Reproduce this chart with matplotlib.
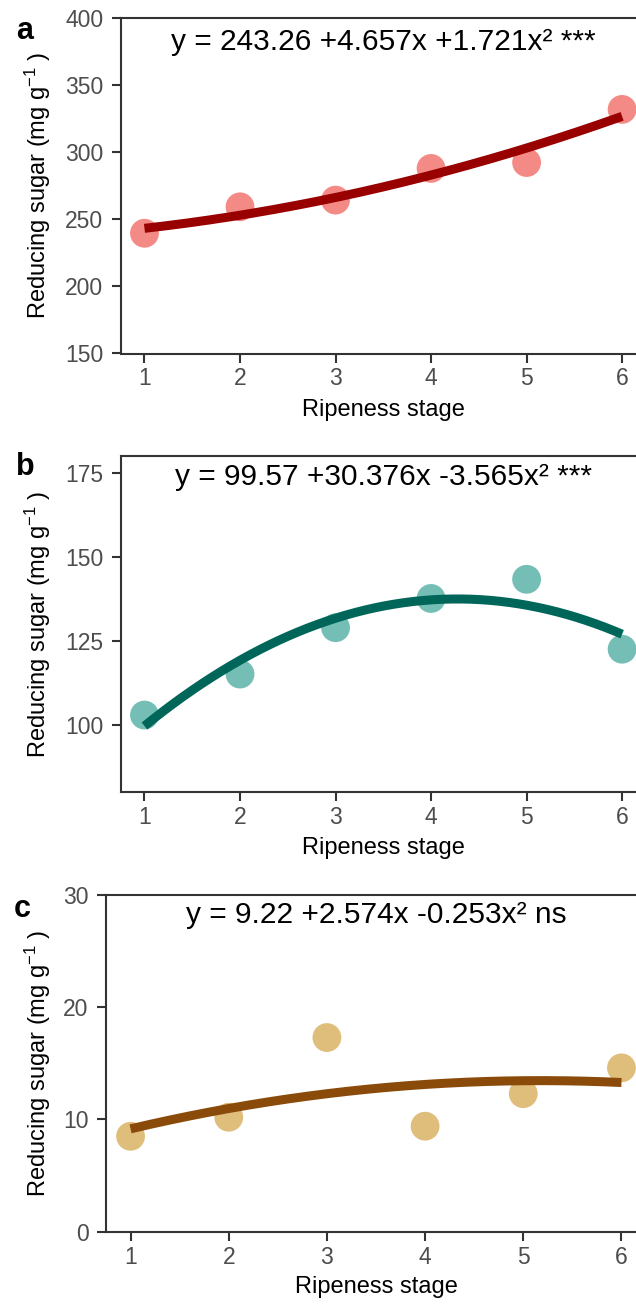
import numpy as np
import matplotlib
matplotlib.use("Agg")
import matplotlib.pyplot as plt

plt.rcParams['font.family'] = ['Liberation Sans', 'DejaVu Sans']
plt.rcParams['mathtext.fontset'] = 'custom'
plt.rcParams['mathtext.rm'] = 'Liberation Sans'
plt.rcParams['mathtext.it'] = 'Liberation Sans:italic'
plt.rcParams['mathtext.default'] = 'regular'

# ---------------- data ----------------
stages = [1, 2, 3, 4, 5, 6]
sugar_a = [239.6, 259.3, 264.3, 287.9, 292.3, 331.9]
sugar_b = [102.9, 115.1, 128.9, 137.6, 143.3, 122.5]
sugar_c = [8.5, 10.2, 17.3, 9.4, 12.3, 14.6]
series = [sugar_a, sugar_b, sugar_c]

panel_labels = ['a', 'b', 'c']
equations = ["y = 243.26 +4.657x +1.721x² ***",
             "y = 99.57 +30.376x -3.565x² ***",
             "y = 9.22 +2.574x -0.253x² ns"]
y_limits = [(150, 400), (80, 180), (0, 30)]
y_ticks = [[150, 200, 250, 300, 350, 400], [100, 125, 150, 175], [0, 10, 20, 30]]
x_label = "Ripeness stage"
y_label = "Reducing sugar (mg g$^{-1}$ )"

point_colors = ['#F4847E', '#6CBBB1', '#DEBA74']
line_colors = ['#990000', '#00665A', '#8A4A0A']

# ---------------- layout (pixels) ----------------
W, H = 636, 1305
fig = plt.figure(figsize=(W / 100, H / 100), dpi=100)
fig.patch.set_facecolor('white')

# (left, top, right, bottom) in pixels
boxes = [(120.6, 18.0, 646.0, 353.5),
         (120.6, 456.0, 646.0, 792.0),
         (106.0, 895.0, 646.0, 1231.7)]
letter_pos = [(16, 39), (16, 475), (14, 917)]
eq_baseline = [50, 485, 923]
xlabel_baseline = [416, 854, 1293]
ylabel_x = 38

edge = '#333333'
for i in range(3):
    l, t, r, b = boxes[i]
    ax = fig.add_axes([l / W, 1 - b / H, (r - l) / W, (b - t) / H])
    ax.scatter(stages, series[i], s=430, color=point_colors[i], alpha=0.95,
               edgecolors='none', zorder=2)
    coef = np.polyfit(stages, series[i], 2)
    xs = np.linspace(stages[0], stages[-1], 200)
    ax.plot(xs, np.polyval(coef, xs), color=line_colors[i], lw=6.5,
            solid_capstyle='butt', zorder=3)

    ax.set_xlim(0.75, 6.25)
    ax.set_ylim(*y_limits[i])
    ax.set_xticks(stages)
    ax.set_yticks(y_ticks[i])
    for s in ax.spines.values():
        s.set_color(edge)
        s.set_linewidth(1.5)
    ax.tick_params(axis='both', direction='out', length=6.5, width=1.5,
                   color=edge, labelcolor='#4D4D4D', labelsize=16.5)
    ax.tick_params(axis='x', pad=3.5)
    ax.tick_params(axis='y', pad=6)

    cx = (l + r) / 2
    ax.set_xlabel(x_label, fontsize=17, color='black', va='baseline', ha='center')
    ax.xaxis.set_label_coords(cx / W, 1 - xlabel_baseline[i] / H, transform=fig.transFigure)
    ax.set_ylabel(y_label, fontsize=17, color='black', va='center', ha='center')
    ax.yaxis.set_label_coords(ylabel_x / W, 1 - ((t + b) / 2) / H, transform=fig.transFigure)

    fig.text(cx / W, 1 - eq_baseline[i] / H, equations[i], fontsize=21.5,
             ha='center', va='baseline', color='black')
    lx, ly = letter_pos[i]
    fig.text(lx / W, 1 - ly / H, panel_labels[i], fontsize=22, fontweight='bold',
             ha='left', va='baseline', color='black')

fig.savefig('out.png', dpi=100)
